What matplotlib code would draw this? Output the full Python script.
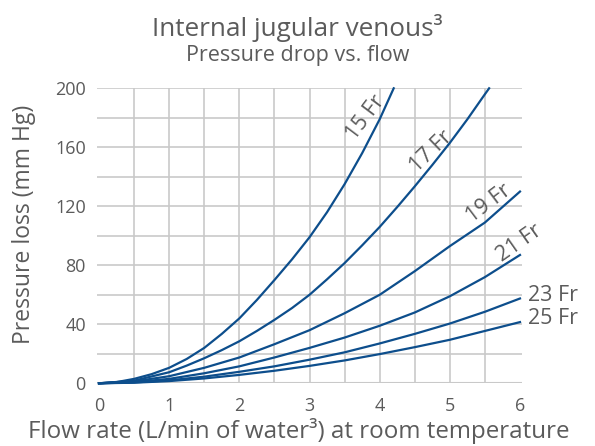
import matplotlib
matplotlib.use("Agg")
import matplotlib.pyplot as plt

plt.rcParams['font.family'] = ['Open Sans', 'DejaVu Sans']

# pressure loss (mm Hg) vs flow (L/min)
x_std = [0, 0.5, 1, 1.5, 2, 2.5, 3, 3.5, 4, 4.5, 5, 5.5, 6]

x_15 = [0, 0.25, 0.5, 0.75, 1, 1.25, 1.5, 1.75, 2, 2.25, 2.5, 2.75, 3, 3.25, 3.5, 3.75, 4, 4.2]
y_15 = [0, 0.8, 3, 6.2, 10.5, 16.5, 24, 33.5, 44, 56.5, 70, 84, 99, 116, 135, 156, 179, 200]

x_17 = [0, 0.5, 1, 1.25, 1.5, 1.75, 2, 2.25, 2.5, 2.75, 3, 3.25, 3.5, 3.75, 4, 4.25, 4.5, 4.75, 5, 5.25, 5.5, 5.56]
y_17 = [0, 1.8, 7.5, 12, 17, 22.5, 28.5, 35.5, 43, 51, 60, 70.5, 81.5, 93.5, 106, 119.5, 133.5, 148, 163, 179, 196, 200]

y_19 = [0, 1.3, 4.8, 10.5, 17.5, 26.5, 36, 47.5, 60, 76, 93, 109, 130]
y_21 = [0, 0.8, 3, 6.8, 11.5, 17.5, 24, 31, 39, 48, 59, 72, 87]
y_23 = [0, 0.6, 2, 4.5, 7.8, 11.5, 16, 21, 27, 33.5, 40.5, 48.5, 57.5]
y_25 = [0, 0.4, 1.5, 3.3, 5.7, 8.5, 11.8, 15.5, 19.8, 24.5, 29.5, 35.5, 41.5]

x_ticks = [0, 1, 2, 3, 4, 5, 6]
x_grid = [0.5, 1, 1.5, 2, 2.5, 3, 3.5, 4, 4.5, 5, 5.5]
y_ticks = [0, 40, 80, 120, 160, 200]
y_grid = [20, 40, 60, 80, 100, 120, 140, 160, 180, 200]

blue = '#0d4e8c'
grey = '#5b5b5b'
gridc = '#c9c9c9'

fig = plt.figure(figsize=(5.95, 4.46), dpi=100)
ax = fig.add_axes([96.9 / 595, 1 - 383.3 / 446, (522.1 - 96.9) / 595, (383.3 - 88.3) / 446])
ax.set_xlim(-0.03, 6.03)
ax.set_ylim(0, 200)

for v in x_grid:
    ax.plot([v, v], [0, 200], color=gridc, lw=1.2, zorder=1)
for h in y_grid:
    ax.axhline(h, color=gridc, lw=1.2, zorder=1)
ax.axhline(0, color=gridc, lw=1.5, zorder=1)

ax.plot(x_15, y_15, color=blue, lw=1.6, clip_on=False, zorder=3)
ax.plot(x_17, y_17, color=blue, lw=1.6, clip_on=False, zorder=3)
for ys in [y_19, y_21, y_23, y_25]:
    ax.plot(x_std, ys, color=blue, lw=1.6, clip_on=False, zorder=3)

fs = 15.5
lab = dict(color=grey, fontsize=fs, ha='center', va='center', rotation_mode='anchor')
ax.text(3.8, 180, '15 Fr', rotation=53, **lab)
ax.text(4.73, 157, '17 Fr', rotation=44, **lab)
ax.text(5.55, 122, '19 Fr', rotation=37, **lab)
ax.text(5.99, 95, '21 Fr', rotation=35, clip_on=False, **lab)
ax.text(6.115, 59.6, '23 Fr', color=grey, fontsize=fs, ha='left', va='center')
ax.text(6.115, 43.7, '25 Fr', color=grey, fontsize=fs, ha='left', va='center')

for s in ax.spines.values():
    s.set_visible(False)
ax.set_xticks(x_ticks)
ax.set_yticks(y_ticks)
ax.tick_params(length=0, labelsize=13, labelcolor=grey)
ax.tick_params(axis='x', pad=10)
ax.tick_params(axis='y', pad=8)
ax.set_xlabel('Flow rate (L/min of water³) at room temperature', fontsize=17.4, color=grey)
ax.set_ylabel('Pressure loss (mm Hg)', fontsize=16.5, color=grey)
ax.xaxis.set_label_coords(0.475, -0.118)
ax.yaxis.set_label_coords(-0.143, 0.54)

fig.text(0.5, 1 - 28 / 446, 'Internal jugular venous³', fontsize=18.8, color=grey, ha='center', va='center')
fig.text(0.5, 1 - 56 / 446, 'Pressure drop vs. flow', fontsize=15.5, color=grey, ha='center', va='center')

fig.savefig('out.png', dpi=100)
